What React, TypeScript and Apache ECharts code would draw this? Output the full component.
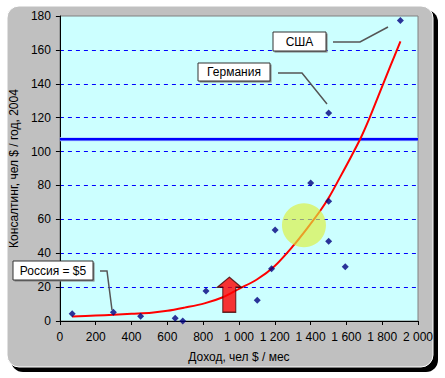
import React, { useEffect, useRef } from "react";
import * as echarts from "echarts";

// Scatter points: income (x) vs consulting spend (y)
const incomeX = [68.6, 298.7, 450.8, 643.8, 686, 816, 1102, 1182, 1202, 1400.7, 1501, 1501, 1501, 1593.7, 1901.7];
const consultY = [4.3, 5.1, 2.75, 1.6, 0, 17.7, 12.2, 30.9, 53.7, 81.4, 70.6, 47, 122.7, 32, 177.4];

// Trend curve
const trendX = [68, 200, 300, 400, 511, 600, 696, 807, 910, 1000, 1100, 1200, 1300, 1383, 1457, 1503, 1568, 1624, 1680, 1726, 1781, 1846, 1902];
const trendY = [2.6, 3.2, 3.7, 4.3, 4.9, 6, 7.9, 10.4, 14, 19, 24.5, 32.5, 44, 55, 65.5, 73, 85.5, 96.5, 108, 119, 133.5, 150.5, 165];

// Reference level (blue line)
const refLevel = 107.3;
const refLineX = [0, 2000];
// Highlight circle and arrow positions (data coords)
const circlePos = [1363, 56.5];
const arrowPos = [946, 15.5];

const xTicks = { min: 0, max: 2000, interval: 200 };
const yTicks = { min: 0, max: 180, interval: 20 };

const FONT = "Liberation Sans, Arial, sans-serif";

function fmtThousands(v: number): string {
  if (v >= 1000) {
    const th = Math.floor(v / 1000);
    const rest = String(v % 1000).padStart(3, "0");
    return `${th} ${rest}`;
  }
  return String(v);
}

function labelBox(x: number, y: number, w: number, h: number, text: string) {
  return {
    type: "group",
    z: 100,
    children: [
      {
        type: "rect",
        z: 100,
        shape: { x: x + 1.5, y: y + 1.5, width: w, height: h },
        style: { fill: "#808080" },
      },
      {
        type: "rect",
        z: 100,
        shape: { x, y, width: w, height: h },
        style: { fill: "#ffffff", stroke: "#333333", lineWidth: 1 },
      },
      {
        type: "text",
        z: 101,
        x: x + w / 2,
        y: y + h / 2,
        style: {
          text,
          fill: "#000",
          font: `12px ${FONT}`,
          align: "center",
          verticalAlign: "middle",
        },
      },
    ],
  };
}

function leader(points: number[][]) {
  return {
    type: "polyline",
    z: 100,
    shape: { points },
    style: { stroke: "#555555", lineWidth: 1.5, fill: null },
  };
}

export default function App() {
  const ref = useRef<HTMLDivElement>(null);
  useEffect(() => {
    if (!ref.current) return;
    const chart = echarts.init(ref.current, null, { renderer: "svg" });
    const points = incomeX.map((x, i) => [x, consultY[i]]);
    const trend = trendX.map((x, i) => [x, trendY[i]]);
    const refLine = refLineX.map((x) => [x, refLevel]);
    chart.setOption({
      animation: false,
      textStyle: { fontFamily: FONT },
      graphic: [
        {
          type: "rect",
          z: -10,
          silent: true,
          shape: { x: 11, y: 10, width: 427, height: 362, r: 12 },
          style: { fill: "#000000" },
        },
        {
          type: "rect",
          z: -9,
          silent: true,
          shape: { x: 7, y: 6, width: 426, height: 361, r: 12 },
          style: { fill: "#c0c0c0", stroke: "#ffffff", lineWidth: 1 },
        },
        labelBox(273, 32, 53, 19, "США"),
        leader([[333, 42], [360, 42], [388, 27]]),
        labelBox(198, 63, 72, 18, "Германия"),
        leader([[278, 73], [302, 73], [327, 104]]),
        labelBox(13, 261, 80, 19, "Россия = $5"),
        leader([[100, 271], [107, 271], [112, 310]]),
      ],
      grid: {
        left: 58,
        top: 16,
        right: 27,
        bottom: 57,
        show: true,
        backgroundColor: "#ccffff",
        borderColor: "#808080",
        borderWidth: 1,
      },
      xAxis: {
        type: "value",
        ...xTicks,
        name: "Доход, чел $ / мес",
        nameLocation: "middle",
        nameGap: 30,
        nameTextStyle: { fontSize: 12, color: "#000", fontFamily: FONT },
        axisLine: { show: true, onZero: false, lineStyle: { color: "#000", width: 1 } },
        axisTick: { show: true, inside: false, length: 4, lineStyle: { color: "#000" } },
        axisLabel: {
          color: "#000",
          fontSize: 12,
          fontFamily: FONT,
          margin: 10,
          showMinLabel: true,
          showMaxLabel: true,
          formatter: (v: number) => fmtThousands(v),
        },
        splitLine: { show: false },
      },
      yAxis: {
        type: "value",
        ...yTicks,
        name: "Консалтинг, чел $ / год, 2004",
        nameLocation: "middle",
        nameGap: 36,
        nameTextStyle: { fontSize: 12, color: "#000", fontFamily: FONT },
        axisLine: { show: true, onZero: false, lineStyle: { color: "#000", width: 1 } },
        axisTick: { show: true, inside: false, length: 4, lineStyle: { color: "#000" } },
        axisLabel: { color: "#000", fontSize: 12, fontFamily: FONT, margin: 9 },
        splitLine: {
          show: true,
          showMinLine: false,
          showMaxLine: false,
          lineStyle: { color: "#0000ff", type: [4, 4], width: 1 },
        },
      },
      series: [
        {
          type: "line",
          data: refLine,
          showSymbol: false,
          symbol: "none",
          silent: true,
          lineStyle: { color: "#b0d0ff", width: 4 },
          z: 2,
        },
        {
          type: "line",
          data: refLine,
          showSymbol: false,
          symbol: "none",
          silent: true,
          lineStyle: { color: "#0000ff", width: 2.5 },
          z: 2,
        },
        {
          type: "line",
          data: trend,
          smooth: 0.3,
          showSymbol: false,
          symbol: "none",
          lineStyle: { color: "#ff0000", width: 2 },
          z: 3,
        },
        {
          type: "scatter",
          data: [circlePos],
          symbol: "circle",
          symbolSize: 44,
          itemStyle: { color: "rgba(222,240,60,0.82)" },
          z: 4,
          silent: true,
        },
        {
          type: "scatter",
          data: points,
          symbol: "diamond",
          symbolSize: 7,
          itemStyle: { color: "#000080" },
          z: 5,
        },
        {
          type: "scatter",
          data: [arrowPos],
          symbol: "path://M12 0 L24 10 L18.5 10 L18.5 35 L5.5 35 L5.5 10 L0 10 Z",
          symbolSize: [24, 35],
          symbolKeepAspect: false,
          itemStyle: {
            color: "#ff0000",
            borderColor: "#400000",
            borderWidth: 1.2,
          },
          z: 6,
          silent: true,
        },
      ],
    });
    return () => chart.dispose();
  }, []);
  return (
    <div
      ref={ref}
      style={{ position: "fixed", left: 0, top: 0, width: 445, height: 378, background: "#ffffff" }}
    />
  );
}
